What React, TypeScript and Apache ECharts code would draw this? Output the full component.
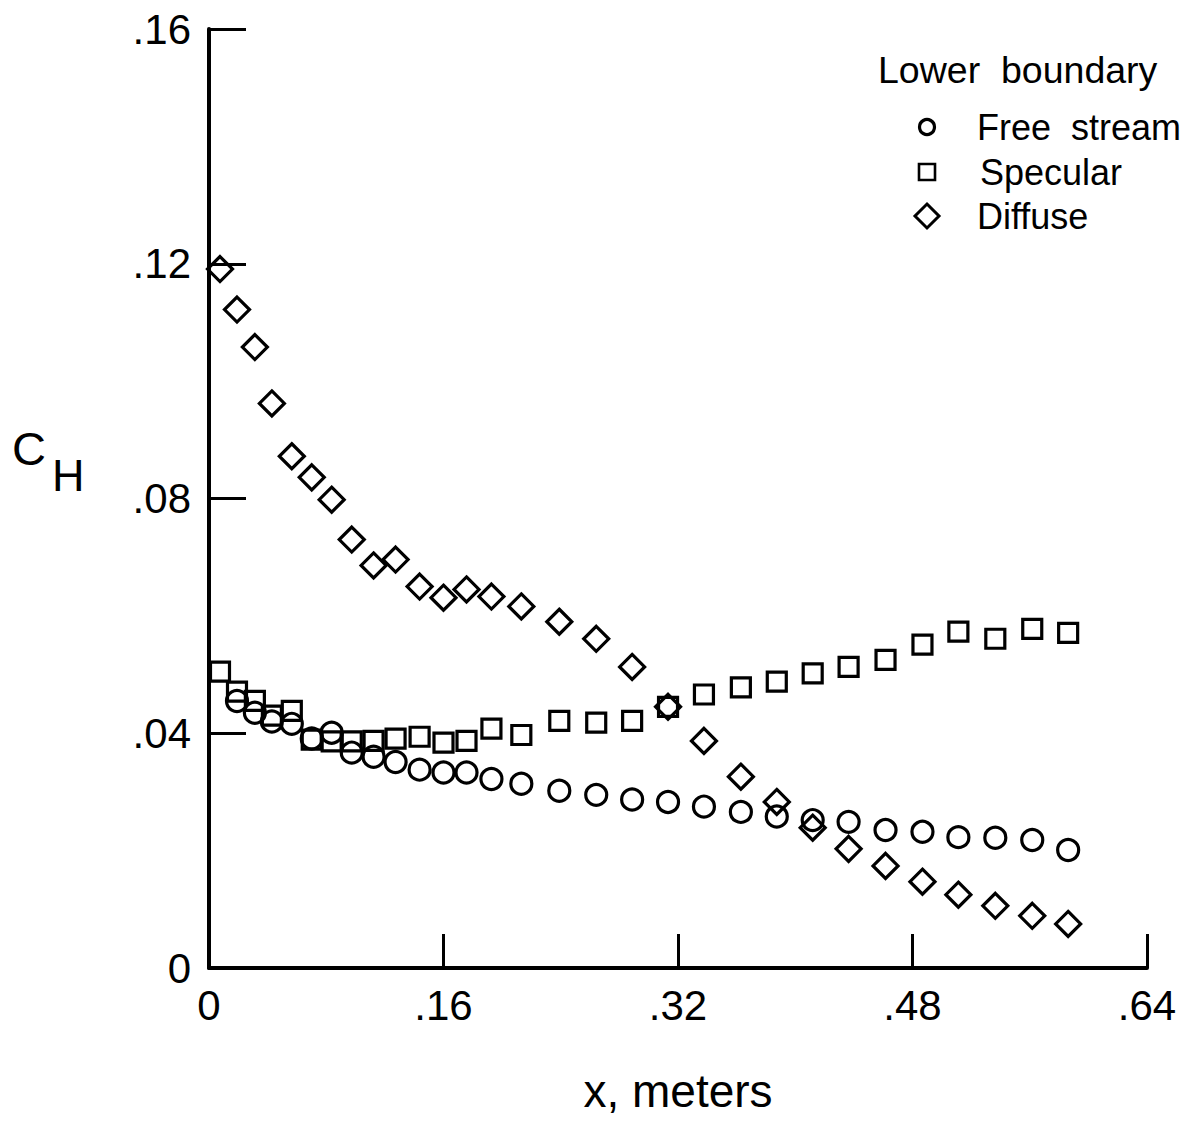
import React, { useEffect, useRef } from "react";
import * as echarts from "echarts";

// x positions (meters) shared by the three series
const xValues = [
  0.0075, 0.0191, 0.0313, 0.0429, 0.0565, 0.0701, 0.0837, 0.0974, 0.1123, 0.1273,
  0.1437, 0.16, 0.1757, 0.1927, 0.2131, 0.239, 0.2642, 0.2887, 0.3132, 0.3377,
  0.3629, 0.3874, 0.4119, 0.4364, 0.4616, 0.4868, 0.5113, 0.5365, 0.5617, 0.5862,
];

// Free stream (circles); first station not plotted
const freeStream = [
  null, 0.0455, 0.0435, 0.042, 0.0416, 0.0391, 0.0401, 0.0367, 0.036, 0.0351,
  0.0338, 0.0333, 0.0333, 0.0322, 0.0314, 0.0302, 0.0295, 0.0287, 0.0283, 0.0275,
  0.0266, 0.0258, 0.0252, 0.0249, 0.0235, 0.0232, 0.0223, 0.0222, 0.0218, 0.0201,
];

// Specular (squares)
const specular = [
  0.0505, 0.0471, 0.0455, 0.043, 0.0438, 0.0389, 0.0386, 0.0386, 0.0387, 0.0391,
  0.0394, 0.0384, 0.0387, 0.0408, 0.0397, 0.0421, 0.0418, 0.0421, 0.0445, 0.0466,
  0.0478, 0.0488, 0.0502, 0.0513, 0.0525, 0.0551, 0.0573, 0.0561, 0.0578, 0.0571,
];

// Diffuse (diamonds)
const diffuse = [
  0.1191, 0.1122, 0.1058, 0.0962, 0.0872, 0.0836, 0.0798, 0.073, 0.0686, 0.0696,
  0.065, 0.0631, 0.0645, 0.0633, 0.0616, 0.059, 0.0561, 0.0513, 0.0445, 0.0387,
  0.0326, 0.0283, 0.0239, 0.0203, 0.0174, 0.0147, 0.0125, 0.0106, 0.0089, 0.0075,
];

const xTicks = [0, 0.16, 0.32, 0.48, 0.64];
const yTicks = [0, 0.04, 0.08, 0.12, 0.16];

const legendTitle = "Lower  boundary";
const seriesNames = ["Free stream", "Specular", "Diffuse"];
const legendLabels = ["Free  stream", "Specular", "Diffuse"];

const FONT = "'Liberation Sans', Arial, Helvetica, sans-serif";

function fmt(v: number): string {
  if (Math.abs(v) < 1e-9) return "0";
  return v.toFixed(2).replace(/^0/, "");
}

function pairs(ys: (number | null)[]) {
  const out: [number, number][] = [];
  ys.forEach((y, i) => {
    if (y !== null) out.push([xValues[i], y]);
  });
  return out;
}

export default function App() {
  const ref = useRef<HTMLDivElement>(null);

  useEffect(() => {
    document.body.style.margin = "0";
    if (!ref.current) return;
    const chart = echarts.init(ref.current, undefined, { renderer: "svg" });

    const markerStyle = {
      color: "rgba(0,0,0,0)",
      borderColor: "#000",
      borderWidth: 3.2,
      opacity: 1,
    };

    const legendX = 927;
    const legendText = { fill: "#000", fontSize: 36, fontFamily: FONT, whiteSpace: "pre" };

    chart.setOption({
      animation: false,
      backgroundColor: "#fff",
      grid: { left: 209, right: 43, top: 29, bottom: 154, containLabel: false },
      xAxis: {
        type: "value",
        min: xTicks[0],
        max: xTicks[xTicks.length - 1],
        interval: 0.16,
        name: "x, meters",
        nameLocation: "middle",
        nameGap: 100,
        nameTextStyle: { color: "#000", fontSize: 46, fontFamily: FONT },
        axisLine: { show: true, onZero: false, lineStyle: { color: "#000", width: 4 } },
        axisTick: { show: true, inside: true, length: 34, lineStyle: { color: "#000", width: 3 } },
        axisLabel: { color: "#000", fontSize: 42, fontFamily: FONT, margin: 16, formatter: fmt },
        splitLine: { show: false },
      },
      yAxis: {
        type: "value",
        min: yTicks[0],
        max: yTicks[yTicks.length - 1],
        interval: 0.04,
        axisLine: { show: true, onZero: false, lineStyle: { color: "#000", width: 4 } },
        axisTick: { show: true, inside: true, length: 37, lineStyle: { color: "#000", width: 3 } },
        axisLabel: { color: "#000", fontSize: 42, fontFamily: FONT, margin: 18, formatter: fmt },
        splitLine: { show: false },
      },
      series: [
        {
          name: seriesNames[0],
          type: "scatter",
          symbol: "circle",
          symbolSize: 21,
          itemStyle: markerStyle,
          data: pairs(freeStream),
          z: 3,
        },
        {
          name: seriesNames[1],
          type: "scatter",
          symbol: "rect",
          symbolSize: 19,
          itemStyle: markerStyle,
          data: pairs(specular),
          z: 3,
        },
        {
          name: seriesNames[2],
          type: "scatter",
          symbol: "diamond",
          symbolSize: 25,
          itemStyle: markerStyle,
          data: pairs(diffuse),
          z: 3,
        },
      ],
      graphic: [
        {
          type: "text",
          left: 12,
          top: 425,
          style: { text: "C", fill: "#000", fontSize: 47, fontFamily: FONT },
        },
        {
          type: "text",
          left: 52,
          top: 453,
          style: { text: "H", fill: "#000", fontSize: 45, fontFamily: FONT },
        },
        {
          type: "text",
          x: 878,
          y: 70,
          style: { text: legendTitle, ...legendText, fontSize: 37.5, verticalAlign: "middle" },
        },
        {
          type: "circle",
          shape: { cx: legendX, cy: 127, r: 7.5 },
          style: { fill: "none", stroke: "#000", lineWidth: 3.2 },
        },
        {
          type: "rect",
          shape: { x: legendX - 8, y: 164, width: 16, height: 16 },
          style: { fill: "none", stroke: "#000", lineWidth: 2.6 },
        },
        {
          type: "polygon",
          shape: {
            points: [
              [legendX, 204],
              [legendX + 12, 216],
              [legendX, 228],
              [legendX - 12, 216],
            ],
          },
          style: { fill: "none", stroke: "#000", lineWidth: 3 },
        },
        {
          type: "text",
          x: 977,
          y: 127,
          style: { text: legendLabels[0], ...legendText, verticalAlign: "middle" },
        },
        {
          type: "text",
          x: 980,
          y: 172,
          style: { text: legendLabels[1], ...legendText, verticalAlign: "middle" },
        },
        {
          type: "text",
          x: 977,
          y: 216,
          style: { text: legendLabels[2], ...legendText, verticalAlign: "middle" },
        },
      ],
    });

    return () => chart.dispose();
  }, []);

  return <div ref={ref} style={{ width: 1190, height: 1122 }} />;
}
